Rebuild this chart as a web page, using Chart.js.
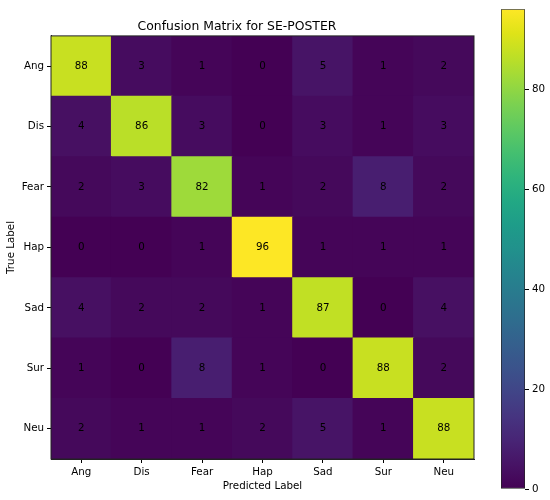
<!DOCTYPE html>
<html>
<head>
<meta charset="utf-8">
<script src="https://cdn.jsdelivr.net/npm/chart.js@4/dist/chart.umd.min.js"></script>
<style>
  html, body { margin: 0; padding: 0; background: #fff; }
  #wrap { position: relative; width: 550px; height: 500px; }
  #main { position: absolute; left: 0; top: 0; }
  #cbar { position: absolute; left: 480px; top: 0; }
</style>
</head>
<body>
<div id="wrap">
  <canvas id="main" width="550" height="500"></canvas>
  <canvas id="cbar" width="70" height="500"></canvas>
</div>
<script>
// ---- data ----
const predictedLabels = ['Ang', 'Dis', 'Fear', 'Hap', 'Sad', 'Sur', 'Neu'];
const trueLabels = ['Ang', 'Dis', 'Fear', 'Hap', 'Sad', 'Sur', 'Neu'];
const rowAng  = [88, 3, 1, 0, 5, 1, 2];
const rowDis  = [4, 86, 3, 0, 3, 1, 3];
const rowFear = [2, 3, 82, 1, 2, 8, 2];
const rowHap  = [0, 0, 1, 96, 1, 1, 1];
const rowSad  = [4, 2, 2, 1, 87, 0, 4];
const rowSur  = [1, 0, 8, 1, 0, 88, 2];
const rowNeu  = [2, 1, 1, 2, 5, 1, 88];
const matrix = [rowAng, rowDis, rowFear, rowHap, rowSad, rowSur, rowNeu];
const colorbarTicks = [0, 20, 40, 60, 80];
const titleText = 'Confusion Matrix for SE-POSTER';

// ---- viridis colormap ----
const viridis = ['#440154','#471365','#482475','#463480','#414487','#3b528b','#355f8d',
  '#2f6c8e','#2a788e','#25848e','#21918c','#1e9c89','#22a884','#2fb47c','#44bf70',
  '#5ec962','#7ad151','#9bd93c','#bddf26','#dfe318','#fde725'];
function hexToRgb(h){ return [parseInt(h.slice(1,3),16),parseInt(h.slice(3,5),16),parseInt(h.slice(5,7),16)]; }
const viridisRgb = viridis.map(hexToRgb);
const vmin = 0;
const vmax = Math.max(...matrix.flat());
function colorFor(v){
  let t = (v - vmin) / (vmax - vmin);
  t = Math.max(0, Math.min(1, t));
  const n = viridisRgb.length - 1;
  const i = Math.min(n - 1, Math.floor(t * n));
  const f = t * n - i;
  const a = viridisRgb[i], b = viridisRgb[i + 1];
  const c = a.map((x, k) => Math.round(x + (b[k] - x) * f));
  return `rgb(${c[0]},${c[1]},${c[2]})`;
}

const FONT = "'DejaVu Sans', sans-serif";
const FS = 10.3;
Chart.defaults.font.family = FONT;
Chart.defaults.color = '#000';

// datasets: bottom of stack = last true label
const nRows = trueLabels.length;
const datasets = [];
for (let r = nRows - 1; r >= 0; r--) {
  datasets.push({
    label: trueLabels[r],
    data: predictedLabels.map(() => 1),
    counts: matrix[r],
    backgroundColor: matrix[r].map(colorFor),
    borderWidth: 0,
    inflateAmount: 0.5,
    barPercentage: 1,
    categoryPercentage: 1
  });
}

const frame = {
  id: 'frame',
  afterDatasetsDraw(chart) {
    const ctx = chart.ctx;
    ctx.save();
    ctx.font = FS + 'px ' + FONT;
    ctx.fillStyle = '#000';
    ctx.textAlign = 'center';
    ctx.textBaseline = 'middle';
    chart.data.datasets.forEach((ds, di) => {
      const meta = chart.getDatasetMeta(di);
      meta.data.forEach((bar, i) => {
        const yc = (bar.y + bar.base) / 2;
        ctx.fillText(String(ds.counts[i]), bar.x, yc);
      });
    });
    const a = chart.chartArea;
    ctx.strokeStyle = '#222';
    ctx.lineWidth = 1;
    ctx.strokeRect(a.left, a.top, a.right - a.left, a.bottom - a.top);
    ctx.restore();
  }
};

new Chart(document.getElementById('main'), {
  type: 'bar',
  data: { labels: predictedLabels, datasets },
  options: {
    responsive: false,
    animation: false,
    layout: { padding: { left: 0, right: 76, top: 0, bottom: 0 } },
    plugins: {
      legend: { display: false },
      tooltip: { enabled: false },
      title: {
        display: true,
        text: titleText,
        font: { size: 12.4, weight: 'normal', family: FONT },
        color: '#000',
        padding: { top: 19, bottom: 2 }
      }
    },
    scales: {
      x: {
        stacked: true,
        grid: { offset: false, drawOnChartArea: false, drawTicks: true, tickLength: 4, color: '#000' },
        border: { display: true, color: '#222' },
        ticks: { font: { size: FS }, color: '#000', padding: 3, maxRotation: 0 },
        title: { display: true, text: 'Predicted Label', font: { size: FS }, color: '#000', padding: { top: 0, bottom: 7 } },
        afterFit(s) { s.height = 41; }
      },
      y: {
        stacked: true,
        min: 0,
        max: nRows,
        grid: { drawOnChartArea: false, drawTicks: true, tickLength: 4, color: '#000' },
        border: { display: true, color: '#222' },
        afterBuildTicks(s) { s.ticks = trueLabels.map((_, k) => ({ value: k + 0.5 })); },
        ticks: {
          font: { size: FS }, color: '#000', padding: 3,
          callback(v) { return trueLabels[nRows - 1 - Math.floor(v)]; }
        },
        title: { display: true, text: 'True Label', font: { size: FS }, color: '#000', padding: { top: 5, bottom: 0 } },
        afterFit(s) { s.width = 51; }
      }
    }
  },
  plugins: [frame]
});

// ---- colorbar ----
new Chart(document.getElementById('cbar'), {
  type: 'bar',
  data: {
    labels: [''],
    datasets: [{
      data: [vmax],
      barPercentage: 1,
      categoryPercentage: 1,
      borderWidth: 1,
      borderColor: '#222',
      borderSkipped: false,
      backgroundColor(ctx) {
        const ca = ctx.chart.chartArea;
        if (!ca) return colorFor(vmax / 2);
        const g = ctx.chart.ctx.createLinearGradient(0, ca.bottom, 0, ca.top);
        viridis.forEach((c, i) => g.addColorStop(i / (viridis.length - 1), c));
        return g;
      }
    }]
  },
  options: {
    responsive: false,
    animation: false,
    layout: { padding: { left: 21, top: 6, bottom: 11, right: 0 } },
    plugins: { legend: { display: false }, tooltip: { enabled: false } },
    scales: {
      x: { display: false },
      y: {
        position: 'right',
        min: vmin,
        max: vmax,
        afterBuildTicks(s) { s.ticks = colorbarTicks.map(v => ({ value: v })); },
        grid: { drawOnChartArea: false, drawTicks: true, tickLength: 4, color: '#000' },
        border: { display: false },
        ticks: { font: { size: FS }, color: '#000', padding: 3 },
        afterFit(s) { s.width = 25; }
      }
    }
  }
});
</script>
</body>
</html>
